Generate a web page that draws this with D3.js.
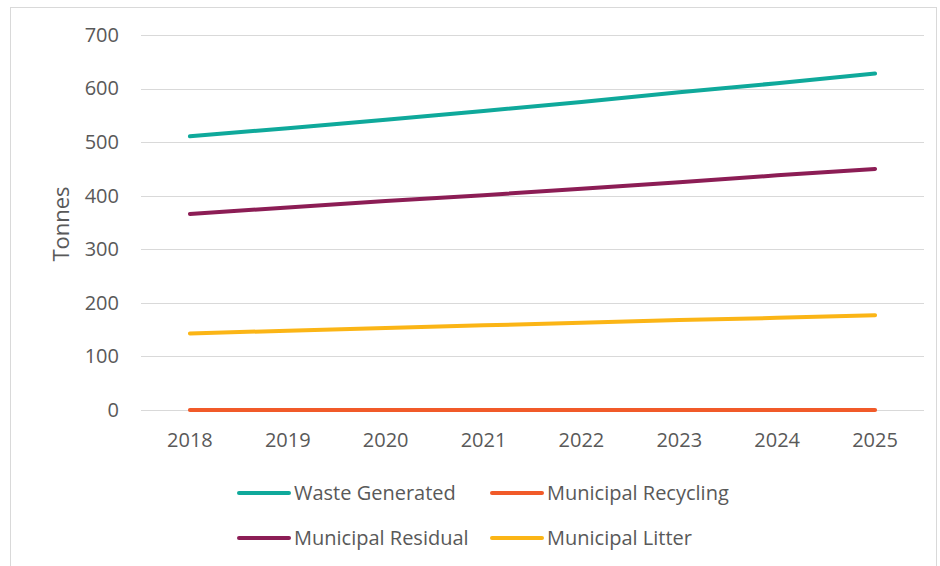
<!DOCTYPE html>
<html lang="en">
<head>
  <meta charset="UTF-8" />
  <title>Waste projections</title>
  <style>
    body { margin: 0; background: #fff; }
    svg { display: block; font-family: "Open Sans", Lato, sans-serif; }
  </style>
</head>
<body>
  <script src="https://d3js.org/d3.v7.min.js"></script>
  <script>
    // Data
    const years = ['2018', '2019', '2020', '2021', '2022', '2023', '2024', '2025'];
    const wasteGenerated = [511, 526, 542, 558, 575, 593, 610, 628];
    const municipalRecycling = [0, 0, 0, 0, 0, 0, 0, 0];
    const municipalResidual = [366, 378, 390, 401, 413, 425, 438, 450];
    const municipalLitter = [143, 148, 153, 158, 163, 168, 172, 177];
    const yTicks = [0, 100, 200, 300, 400, 500, 600, 700];

    const series = [
      { name: 'Waste Generated', values: wasteGenerated, color: '#0fa99b' },
      { name: 'Municipal Recycling', values: municipalRecycling, color: '#f15a29' },
      { name: 'Municipal Residual', values: municipalResidual, color: '#8c1d55' },
      { name: 'Municipal Litter', values: municipalLitter, color: '#fbb516' }
    ];

    const fontFam = '"Open Sans", Lato, sans-serif';
    const width = 940, height = 566;
    const svg = d3.select('body').append('svg')
      .attr('width', width)
      .attr('height', height);

    // outer border
    svg.append('rect')
      .attr('x', 10.5).attr('y', 7.5)
      .attr('width', width - 14).attr('height', height - 5)
      .attr('fill', 'none')
      .attr('stroke', '#d9d9d9');

    const x = d3.scaleBand()
      .domain(years)
      .range([141, 924]);

    const y = d3.scaleLinear()
      .domain([0, 700])
      .range([410, 35]);

    // gridlines
    svg.append('g')
      .selectAll('line')
      .data(yTicks)
      .enter().append('line')
      .attr('x1', 141).attr('x2', 924)
      .attr('y1', d => Math.round(y(d)) + 0.5)
      .attr('y2', d => Math.round(y(d)) + 0.5)
      .attr('stroke', '#d9d9d9')
      .attr('stroke-width', 1);

    // y axis labels
    const yAxis = svg.append('g')
      .attr('transform', 'translate(141,0)')
      .call(d3.axisLeft(y).tickValues(yTicks).tickSize(0).tickPadding(22));
    yAxis.select('.domain').remove();
    yAxis.selectAll('text')
      .attr('font-size', '20px')
      .attr('font-family', fontFam)
      .attr('fill', '#595959');

    // x axis labels
    const xAxis = svg.append('g')
      .attr('transform', 'translate(0,410)')
      .call(d3.axisBottom(x).tickSize(0).tickPadding(23));
    xAxis.select('.domain').remove();
    xAxis.selectAll('text')
      .attr('font-size', '20px')
      .attr('font-family', fontFam)
      .attr('fill', '#595959');

    // axis title
    svg.append('text')
      .attr('transform', 'translate(69,224) rotate(-90)')
      .attr('text-anchor', 'middle')
      .attr('font-size', '22px')
      .attr('fill', '#595959')
      .text('Tonnes');

    const line = d3.line()
      .x((d, i) => x(years[i]) + x.bandwidth() / 2)
      .y(d => y(d));

    svg.append('g')
      .selectAll('path')
      .data(series)
      .enter().append('path')
      .attr('d', d => line(d.values))
      .attr('fill', 'none')
      .attr('stroke', d => d.color)
      .attr('stroke-width', 4)
      .attr('stroke-linecap', 'round')
      .attr('stroke-linejoin', 'round');

    // legend
    const legendPos = [[237, 493], [490, 493], [237, 538], [490, 538]];
    const legend = svg.append('g')
      .selectAll('g')
      .data(series)
      .enter().append('g')
      .attr('transform', (d, i) => `translate(${legendPos[i][0]},${legendPos[i][1]})`);

    legend.append('line')
      .attr('x1', 2).attr('x2', 52)
      .attr('y1', 0).attr('y2', 0)
      .attr('stroke', d => d.color)
      .attr('stroke-width', 4)
      .attr('stroke-linecap', 'round');

    legend.append('text')
      .attr('x', 57)
      .attr('y', 0)
      .attr('dy', '0.35em')
      .attr('font-size', '20px')
      .attr('font-family', fontFam)
      .attr('fill', '#595959')
      .text(d => d.name);
  </script>
</body>
</html>
